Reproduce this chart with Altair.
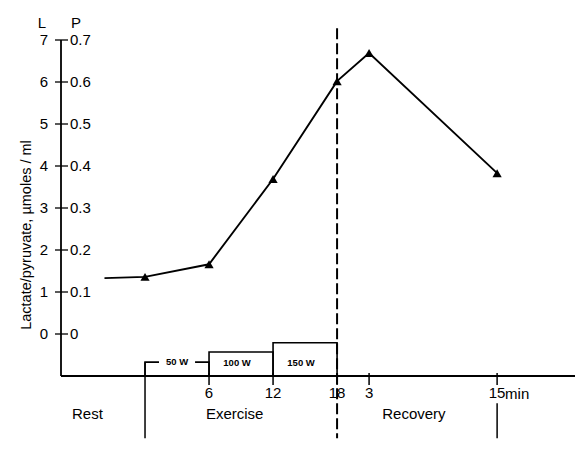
import altair as alt
import pandas as pd

# Blood lactate (L scale) during rest, graded exercise and recovery.
# Time is counted in minutes from the start of exercise; recovery 3 and 15 min = 21 and 33.
time_min = [-3.8, 0, 6, 12, 18, 21, 33]
lactate = [1.33, 1.36, 1.66, 3.69, 6.02, 6.69, 3.83]
has_marker = [False, True, True, True, True, True, True]

# Left (lactate) and right (pyruvate) scale labels
y_values = [0, 1, 2, 3, 4, 5, 6, 7]
l_labels = ["0", "1", "2", "3", "4", "5", "6", "7"]
p_labels = ["0", "0.1", "0.2", "0.3", "0.4", "0.5", "0.6", "0.7"]

# Time axis ticks
x_tick_pos = [6, 12, 18, 21, 33]
x_tick_labels = ["6", "12", "18", "3", "15"]

# Work-load steps
step_start = [0, 6, 12]
step_end = [6, 12, 18]
step_watts = ["50 W", "100 W", "150 W"]
step_level = [-0.67, -0.43, -0.21]

# Phase names under the axis
phase_names = ["Rest", "Exercise", "Recovery"]
phase_center = [-5.4, 8.4, 25.2]

FONT = "Liberation Sans"
X_MIN, X_MAX = -7.875, 40.3
Y_MIN, Y_MAX = -1, 7

xs = alt.Scale(domain=[X_MIN, X_MAX], nice=False, zero=False)
ys = alt.Scale(domain=[Y_MIN, Y_MAX], nice=False, zero=False)

series = pd.DataFrame({"t": time_min, "L": lactate, "marker": has_marker})
yticks = pd.DataFrame({"v": y_values, "l": l_labels, "p": p_labels})
xticks = pd.DataFrame({"t": x_tick_pos, "lab": x_tick_labels})
steps = pd.DataFrame({"t0": step_start, "t1": step_end, "w": step_watts, "top": step_level})
steps["mid"] = (steps["t0"] + steps["t1"]) / 2
phases = pd.DataFrame({"name": phase_names, "t": phase_center})
frame = pd.DataFrame({"x0": [X_MIN], "x1": [X_MAX], "y0": [Y_MIN], "y1": [Y_MAX]})

X = lambda f: alt.X(f, scale=xs, axis=None)
Y = lambda f: alt.Y(f, scale=ys, axis=None)

# Axis lines
y_axis = alt.Chart(frame).mark_rule(color="black", strokeWidth=1.8).encode(
    x=X("x0:Q"), y=Y("y0:Q"), y2="y1:Q")
x_axis = alt.Chart(frame).mark_rule(color="black", strokeWidth=1.8).encode(
    x=X("x0:Q"), x2="x1:Q", y=Y("y0:Q"))

# Y ticks crossing the axis, with L labels on the left and P labels on the right
y_tick_marks = alt.Chart(yticks).mark_rule(color="black", strokeWidth=1.3).encode(
    x=alt.value(-6), x2=alt.value(7), y=Y("v:Q"))
l_text = alt.Chart(yticks).mark_text(align="right", baseline="middle", font=FONT,
                                     fontSize=15, color="black").encode(
    x=alt.value(-13), y=Y("v:Q"), text="l:N")
p_text = alt.Chart(yticks).mark_text(align="left", baseline="middle", font=FONT,
                                     fontSize=15, color="black").encode(
    x=alt.value(9), y=Y("v:Q"), text="p:N")
headers = alt.Chart(pd.DataFrame({"h": ["L", "P"], "px": [-19, 15]})).mark_text(
    align="center", baseline="middle", font=FONT, fontSize=15, color="black").encode(
    x=alt.X("px:Q", scale=None), y=alt.value(-17), text="h:N")
y_title = alt.Chart(pd.DataFrame({"s": ["Lactate/pyruvate, µmoles / ml"]})).mark_text(
    angle=270, align="center", baseline="middle", font=FONT, fontSize=14.5,
    color="black").encode(x=alt.value(-34), y=alt.value(195), text="s:N")

# X ticks and labels
x_tick_marks = alt.Chart(xticks).mark_rule(color="black", strokeWidth=1.5).encode(
    x=X("t:Q"), y=alt.value(333), y2=alt.value(345))
x_text = alt.Chart(xticks).mark_text(align="center", baseline="middle", font=FONT,
                                     fontSize=15, color="black").encode(
    x=X("t:Q"), y=alt.value(353), text="lab:N")
min_text = alt.Chart(pd.DataFrame({"t": [33], "s": ["min"]})).mark_text(
    align="left", baseline="middle", font=FONT, fontSize=15, color="black", dx=8).encode(
    x=X("t:Q"), y=alt.value(354), text="s:N")
phase_text = alt.Chart(phases).mark_text(align="center", baseline="middle", font=FONT,
                                         fontSize=15, color="black").encode(
    x=X("t:Q"), y=alt.value(374), text="name:N")

# Work-load steps
step_boxes = alt.Chart(steps).mark_rect(fill=None, stroke="black", strokeWidth=1.6).encode(
    x=X("t0:Q"), x2="t1:Q", y=Y("top:Q"), y2=alt.datum(Y_MIN))
first = steps.iloc[:1]
rest_steps = steps.iloc[1:]
# white gap in the 50 W line behind its label
gap = alt.Chart(first).mark_point(
    shape="M-1,-0.3L1,-0.3L1,0.3L-1,0.3Z", filled=True, fill="white", stroke=None,
    size=1300, opacity=1).encode(x=X("mid:Q"), y=Y("top:Q"))
w50 = alt.Chart(first).mark_text(font=FONT, fontSize=9.5, fontWeight="bold",
                                 color="black", baseline="middle").encode(
    x=X("mid:Q"), y=Y("top:Q"), text="w:N")
w_other = alt.Chart(rest_steps).mark_text(font=FONT, fontSize=9.5, fontWeight="bold",
                                          color="black", baseline="middle", dx=-4).encode(
    x=X("mid:Q"), y=alt.value(323), text="w:N")

# Phase boundaries
bounds = pd.DataFrame({"t": [0, 33], "top": [-0.67, -1.65], "bot": [-2.48, -2.48]})
bound_lines = alt.Chart(bounds).mark_rule(color="black", strokeWidth=1.5).encode(
    x=X("t:Q"), y=Y("top:Q"), y2="bot:Q")
end_ex = alt.Chart(pd.DataFrame({"t": [18], "top": [7.28], "bot": [-2.48]})).mark_rule(
    color="black", strokeWidth=2, strokeDash=[11, 4]).encode(
    x=X("t:Q"), y=Y("top:Q"), y2="bot:Q")

# Lactate curve
line = alt.Chart(series).mark_line(color="black", strokeWidth=1.9).encode(
    x=X("t:Q"), y=Y("L:Q"))
pts = alt.Chart(series).transform_filter(alt.datum.marker).mark_point(
    shape="triangle-up", filled=True, color="black", size=85, opacity=1).encode(
    x=X("t:Q"), y=Y("L:Q"))

chart = alt.layer(
    step_boxes, gap, w50, w_other, bound_lines, end_ex,
    y_axis, x_axis, y_tick_marks, l_text, p_text, headers, y_title,
    x_tick_marks, x_text, min_text, phase_text, line, pts,
).properties(
    width=514, height=336,
    autosize=alt.AutoSizeParams(type="none"),
    padding={"left": 61, "top": 40, "right": 1, "bottom": 73},
    background="white",
).configure_view(stroke=None)

chart.save("out.html", embed_options={"renderer": "svg", "actions": False})
